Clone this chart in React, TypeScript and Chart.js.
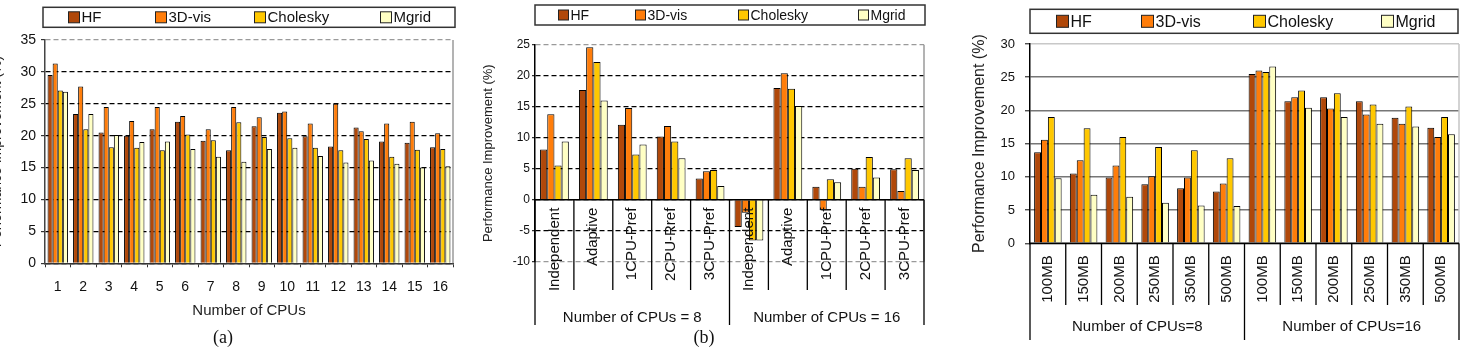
import React, { useEffect, useRef } from "react";
import { Chart, registerables } from "chart.js";

Chart.register(...registerables);

const FONT = '"Liberation Sans", Arial, Helvetica, sans-serif';

// ---------- data ----------
const SERIES = ["HF", "3D-vis", "Cholesky", "Mgrid"];
const COLORS = ["#B0480A", "#FF7D0A", "#FFC800", "#FFFFC4"];

// (a) improvement vs number of CPUs
const cpuLabels = ["1", "2", "3", "4", "5", "6", "7", "8", "9", "10", "11", "12", "13", "14", "15", "16"];
const aHF = [29.5, 23.4, 20.5, 20.0, 21.0, 22.2, 19.2, 17.7, 21.5, 23.6, 19.9, 18.3, 21.3, 19.1, 18.9, 18.2];
const a3D = [31.3, 27.7, 24.5, 22.3, 24.5, 23.1, 21.0, 24.5, 22.9, 23.8, 21.9, 25.0, 20.7, 21.9, 22.2, 20.4];
const aCh = [27.1, 21.0, 18.2, 18.1, 17.7, 20.2, 19.3, 22.1, 19.8, 19.6, 18.1, 17.7, 19.5, 16.7, 17.8, 17.9];
const aMg = [26.9, 23.4, 20.1, 19.0, 19.1, 17.9, 16.7, 15.9, 17.9, 18.1, 16.8, 15.8, 16.1, 15.6, 15.0, 15.2];
const aTicks = { min: 0, max: 35, step: 5 };

// (b) improvement per policy
const policyLabels = [
  "Independent", "Adaptive", "1CPU-Pref", "2CPU-Rref", "3CPU-Pref",
  "Independent", "Adaptive", "1CPU-Pref", "2CPU-Pref", "3CPU-Pref",
];
const policyGroups = ["Number of CPUs = 8", "Number of CPUs = 16"];
const bHF = [8.1, 17.7, 12.1, 10.2, 3.4, -4.4, 18.0, 2.1, 5.0, 4.9];
const b3D = [13.8, 24.6, 14.8, 11.9, 4.6, -2.1, 20.4, -1.7, 2.1, 1.4];
const bCh = [5.5, 22.2, 7.3, 9.4, 4.8, -6.6, 17.9, 3.3, 6.9, 6.7];
const bMg = [9.4, 16.0, 8.9, 6.7, 2.2, -6.6, 15.1, 2.8, 3.6, 4.8];
const bTicks = { min: -10, max: 25, step: 5 };

// (c) improvement per memory size
const sizeLabels = ["100MB", "150MB", "200MB", "250MB", "350MB", "500MB", "100MB", "150MB", "200MB", "250MB", "350MB", "500MB"];
const sizeGroups = ["Number of CPUs=8", "Number of CPUs=16"];
const cHF = [13.7, 10.5, 9.9, 8.9, 8.3, 7.8, 25.5, 21.4, 22.0, 21.4, 18.9, 17.4];
const c3D = [15.6, 12.5, 11.7, 10.1, 9.9, 9.0, 26.0, 22.0, 20.3, 19.4, 18.0, 16.0];
const cCh = [19.0, 17.3, 16.0, 14.5, 14.0, 12.8, 25.8, 23.0, 22.6, 20.9, 20.6, 19.0];
const cMg = [9.8, 7.3, 7.0, 6.1, 5.7, 5.6, 26.6, 20.4, 19.0, 18.0, 17.6, 16.4];
const cTicks = { min: 0, max: 30, step: 5 };

const Y_TITLE = "Performance Improvement (%)";

// ---------- helpers ----------
function makeDatasets(series: number[][], catPct: number) {
  return series.map((data, i) => ({
    label: SERIES[i],
    data,
    backgroundColor: COLORS[i],
    borderColor: "#000",
    borderWidth: 1,
    categoryPercentage: catPct,
    barPercentage: 1,
  }));
}

function strokeLine(ctx: CanvasRenderingContext2D, x1: number, y1: number, x2: number, y2: number, color: string, w: number) {
  ctx.save();
  ctx.strokeStyle = color;
  ctx.lineWidth = w;
  ctx.setLineDash([]);
  ctx.beginPath();
  ctx.moveTo(x1, y1);
  ctx.lineTo(x2, y2);
  ctx.stroke();
  ctx.restore();
}

const decorPlugin = {
  id: "decor",
  afterDraw(chart: any, _args: any, o: any) {
    const { ctx, chartArea: ca, scales } = chart;
    const x = scales.x;
    const y = scales.y;
    ctx.save();

    if (o.rightBorder) strokeLine(ctx, ca.right, ca.top, ca.right, ca.bottom, o.rightBorder, 1.5);

    if (o.groups) {
      const g = o.groups;
      const labels: string[] = chart.data.labels;
      const n = labels.length;
      const per = n / g.names.length;
      const zero = y.getPixelForValue(0);
      const step = x.getPixelForValue(1) - x.getPixelForValue(0);
      for (let i = 0; i <= n; i++) {
        const px = i === n ? x.getPixelForValue(n - 1) + step / 2 : x.getPixelForValue(i) - step / 2;
        const bottom = i % per === 0 ? g.groupBottom : g.catBottom;
        strokeLine(ctx, px, zero, px, bottom, "#000", 1.3);
      }
      strokeLine(ctx, ca.left, zero, ca.right, zero, "#000", 1.5);
      ctx.fillStyle = "#111";
      ctx.font = `${g.catSize}px ${FONT}`;
      labels.forEach((lb, i) => {
        ctx.save();
        ctx.translate(x.getPixelForValue(i), zero + g.catGap);
        ctx.rotate(-Math.PI / 2);
        ctx.textAlign = "right";
        ctx.textBaseline = "middle";
        ctx.fillText(lb, 0, 0);
        ctx.restore();
      });
      ctx.font = `${g.groupSize}px ${FONT}`;
      ctx.textAlign = "center";
      ctx.textBaseline = "middle";
      g.names.forEach((nm: string, k: number) => {
        const x0 = x.getPixelForValue(k * per) - step / 2;
        const x1 = x.getPixelForValue(k * per + per - 1) + step / 2;
        ctx.fillText(nm, (x0 + x1) / 2, g.groupY);
      });
    }

    const L = o.legend;
    if (L) {
      const bx = ca.left + L.dl;
      const bw = ca.right + L.dr - bx;
      ctx.fillStyle = "#fff";
      ctx.fillRect(bx, L.top, bw, L.h);
      ctx.strokeStyle = "#333";
      ctx.lineWidth = 1.5;
      ctx.strokeRect(bx, L.top, bw, L.h);
      ctx.font = `${L.size}px ${FONT}`;
      ctx.textBaseline = "middle";
      ctx.textAlign = "left";
      chart.data.datasets.forEach((ds: any, i: number) => {
        const sx = Math.round(bx + L.fracs[i] * bw) + 0.5;
        const cy = L.top + L.h / 2;
        ctx.fillStyle = ds.backgroundColor;
        ctx.fillRect(sx, cy - L.sw / 2, L.sw, L.sw);
        ctx.strokeStyle = "#222";
        ctx.lineWidth = 1;
        ctx.strokeRect(sx, cy - L.sw / 2, L.sw, L.sw);
        ctx.fillStyle = "#111";
        ctx.fillText(ds.label, sx + L.sw + 2, cy + 1);
      });
    }
    ctx.restore();
  },
};

function yAxis(t: { min: number; max: number; step: number }, opts: any) {
  return {
    min: t.min,
    max: t.max,
    afterFit: (s: any) => {
      s.width = opts.width;
    },
    ticks: {
      stepSize: t.step,
      font: { family: FONT, size: opts.tickSize },
      color: "#111",
      padding: opts.tickPad,
    },
    grid: {
      color: opts.gridColor,
      lineWidth: opts.gridWidth,
      drawTicks: true,
      tickLength: opts.tickLen,
      tickColor: "#333",
      tickWidth: 1.2,
    },
    border: { display: true, color: opts.axisColor, width: 1.5, dash: opts.dash },
    title: {
      display: true,
      text: Y_TITLE,
      font: { family: FONT, size: opts.titleSize },
      color: "#222",
      padding: { top: 0, bottom: 0 },
    },
  };
}

function configA(): any {
  return {
    type: "bar",
    data: { labels: cpuLabels, datasets: makeDatasets([aHF, a3D, aCh, aMg], 0.8) },
    options: {
      responsive: false,
      animation: false,
      events: [],
      layout: { padding: { left: 0, right: 17, top: 40, bottom: 30 } },
      plugins: {
        legend: { display: false },
        tooltip: { enabled: false },
        decor: {
          rightBorder: "#9a9a9a",
          legend: { dl: -2, dr: 2, top: 7.3, h: 20, sw: 11, size: 15, fracs: [0.061, 0.272, 0.512, 0.818] },
        },
      },
      scales: {
        x: {
          afterFit: (s: any) => {
            s.height = 56.7;
          },
          ticks: { font: { family: FONT, size: 14 }, color: "#111", padding: 11, maxRotation: 0, autoSkip: false },
          grid: { offset: true, drawOnChartArea: false, drawTicks: true, tickLength: 4, color: "#333" },
          border: { display: true, color: "#333", width: 1.5 },
          title: {
            display: true,
            text: "Number of CPUs",
            font: { family: FONT, size: 15 },
            color: "#222",
            padding: { top: 0, bottom: 0 },
          },
        },
        y: yAxis(aTicks, {
          width: 56,
          tickSize: 14,
          tickPad: 5,
          tickLen: 4,
          titleSize: 14,
          gridWidth: 1.2,
          dash: [5, 3],
          axisColor: "#444",
          gridColor: (c: any) => (c.tick && c.tick.value === aTicks.max ? "#9a9a9a" : "#000"),
        }),
      },
    },
    plugins: [decorPlugin],
  };
}

function configB(): any {
  return {
    type: "bar",
    data: { labels: policyLabels, datasets: makeDatasets([bHF, b3D, bCh, bMg], 0.74) },
    options: {
      responsive: false,
      animation: false,
      events: [],
      layout: { padding: { left: 10.2, right: 16, top: 44.7, bottom: 88.3 } },
      plugins: {
        legend: { display: false },
        tooltip: { enabled: false },
        decor: {
          rightBorder: "#9a9a9a",
          legend: { dl: 0, dr: 1, top: 5, h: 20, sw: 10, size: 14, fracs: [0.059, 0.256, 0.52, 0.828] },
          groups: {
            names: policyGroups,
            catSize: 15,
            catGap: 8,
            catBottom: 290,
            groupBottom: 325,
            groupSize: 15,
            groupY: 318,
          },
        },
      },
      scales: {
        x: { display: false },
        y: yAxis(bTicks, {
          width: 54.8,
          tickSize: 12,
          tickPad: 2,
          tickLen: 3,
          titleSize: 13,
          gridWidth: 1.2,
          dash: [5, 3],
          axisColor: "#000",
          gridColor: (c: any) =>
            c.tick && (c.tick.value === bTicks.max || c.tick.value === bTicks.min) ? "#9a9a9a" : "#000",
        }),
      },
    },
    plugins: [decorPlugin],
  };
}

function configC(): any {
  return {
    type: "bar",
    data: { labels: sizeLabels, datasets: makeDatasets([cHF, c3D, cCh, cMg], 0.77) },
    options: {
      responsive: false,
      animation: false,
      events: [],
      layout: { padding: { left: 30.4, right: 17, top: 44, bottom: 106.7 } },
      plugins: {
        legend: { display: false },
        tooltip: { enabled: false },
        decor: {
          rightBorder: "#c4c4c4",
          legend: { dl: 0, dr: -1, top: 9.3, h: 24, sw: 12, size: 16, fracs: [0.061, 0.259, 0.521, 0.82] },
          groups: {
            names: sizeGroups,
            catSize: 15,
            catGap: 12,
            catBottom: 305,
            groupBottom: 340,
            groupSize: 15,
            groupY: 327,
          },
        },
      },
      scales: {
        x: { display: false },
        y: yAxis(cTicks, {
          width: 59.6,
          tickSize: 13,
          tickPad: 10,
          tickLen: 5,
          titleSize: 16,
          gridWidth: 1.5,
          dash: [],
          axisColor: "#000",
          gridColor: (c: any) => (c.tick && c.tick.value === cTicks.max ? "#c8c8c8" : "#767676"),
        }),
      },
    },
    plugins: [decorPlugin],
  };
}

function Panel({ left, width, make }: { left: number; width: number; make: () => any }) {
  const ref = useRef<HTMLCanvasElement | null>(null);
  useEffect(() => {
    if (!ref.current) return;
    const chart = new Chart(ref.current, make());
    return () => chart.destroy();
  }, [make]);
  return (
    <div style={{ position: "absolute", left, top: 0, width, height: 350 }}>
      <canvas ref={ref} width={width} height={350} style={{ display: "block" }} />
    </div>
  );
}

function Caption({ x, text }: { x: number; text: string }) {
  return (
    <div
      style={{
        position: "absolute",
        left: x,
        top: 337,
        transform: "translate(-50%, -50%)",
        fontFamily: '"Liberation Serif", "Times New Roman", serif',
        fontSize: 18,
        color: "#111",
        whiteSpace: "nowrap",
      }}
    >
      {text}
    </div>
  );
}

export default function App() {
  return (
    <div
      style={{
        position: "absolute",
        left: 0,
        top: 0,
        width: 1476,
        height: 350,
        overflow: "hidden",
        background: "#fff",
      }}
    >
      <Panel left={-11} width={481} make={configA} />
      <Panel left={470} width={470} make={configB} />
      <Panel left={940} width={536} make={configC} />
      <Caption x={223} text="(a)" />
      <Caption x={704} text="(b)" />
    </div>
  );
}
